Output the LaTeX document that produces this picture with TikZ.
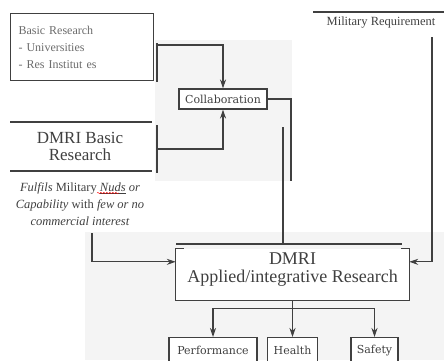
\documentclass[tikz,border=0pt]{standalone}
\usepackage{fontspec}
\setmainfont{Liberation Serif}
\newfontfamily\boxfont{DejaVu Serif}
\usetikzlibrary{arrows.meta,calc,decorations.pathmorphing}
\colorlet{ink}{black!75}
\colorlet{paper}{gray!9}

\begin{document}
\begin{tikzpicture}[x=1pt,y=-1pt,>={Stealth[length=9pt,width=6pt,fill=gray!75!black]}]
        % --- 1. Define Styles ---
        \tikzset{
          link/.style={draw=ink,line width=1.1pt},
          arr/.style={link,->},
          rule/.style={draw=ink,line width=1.5pt},
          box/.style={draw=ink,line width=1.1pt,fill=white,inner sep=2pt},
          small/.style={font=\boxfont\fontsize{11}{12}\selectfont,text=ink},
        }
        \useasboundingbox (0,0) rectangle (444,360);

        % --- 2. Scanned Backgrounds ---
        \fill[paper] (155,40) rectangle (292,181);
        \fill[paper] (85,232) rectangle (444,360);

        % --- 3. Text Blocks ---
        \node[box,text width=127pt,minimum height=67,inner xsep=8pt,anchor=north west,align=left,
              text=gray!85!black,font=\fontsize{12}{17}\selectfont] (basic) at (10,13)
              {Basic Research\\- Universities\\- Res Institut es};
        \node[box,small,minimum width=88,minimum height=20] (collab) at (223,99) {Collaboration};
        \node[text=ink,font=\fontsize{12.5}{13}\selectfont] (milreq) at (381,23) {Military Requirement};
        \node[text=ink,align=center,font=\fontsize{17}{17}\selectfont] (dbasic) at (80,146) {DMRI Basic\\Research};
        \node[text=ink,align=center,font=\fontsize{12.5}{17}\selectfont] (fulfil) at (80,204)
              {\textit{Fulfils} Military \underline{\textit{Nuds}} \textit{or}\\
               \textit{Capability} with \textit{few or no}\\
               \textit{commercial interest}};
        \node[fill=white,minimum width=233,minimum height=51,text depth=13pt,align=center,
              text=ink,font=\fontsize{18}{18}\selectfont] (dapp) at (292.5,274.5)
              {DMRI\\Applied/integrative Research};

        % --- 4. Outcome Boxes ---
        \node[box,small,minimum width=88,minimum height=26,anchor=north] (perf) at (213,337) {Performance};
        \node[box,small,minimum width=50,minimum height=26,anchor=north] (health) at (292.5,337) {Health};
        \node[box,small,minimum width=47,minimum height=26,anchor=north] (safety) at (374.5,337) {Safety};

        % --- 5. Rules and Frame ---
        \draw[rule] (313,12) -- (444,12);
        \draw[rule] (10,122) -- (152,122);
        \draw[rule] (10,171) -- (152,171);
        \draw[rule] (176,244) -- (402,244);
        \draw[link] ($(dapp.north west)+(8,0)$) -- (dapp.north west) -- (dapp.south west)
                    -- (dapp.south east) -- (dapp.north east) -- ($(dapp.north east)+(-8,0)$);
        \draw[red,decorate,decoration={snake,amplitude=0.7pt,segment length=3pt}] (97,193) -- (119,193);

        % --- 6. Coordinates ---
        \coordinate (bktAtop) at (157,43);
        \coordinate (bktAbot) at (157,82);
        \coordinate (bktAmid) at (157,45);
        \coordinate (bktBtop) at (157,125);
        \coordinate (bktBbot) at (157,173);
        \coordinate (bktBmid) at (157,149);
        \coordinate (cdrop) at (291,181);
        \coordinate (vtop) at (283,127);
        \coordinate (vbot) at (283,244);
        \coordinate (mtop) at (432,37);
        \coordinate (fdrop) at (92,233);
        \coordinate (inL) at ($(dapp.north west)+(0,13)$);
        \coordinate (inR) at ($(dapp.north east)+(0,13)$);
        \coordinate (split) at ($(dapp.south)+(0,8)$);

        % --- 7. Connectors ---
        \draw[link] (bktAtop) -- (bktAbot);
        \draw[arr] (bktAmid) -| (collab.north);
        \draw[link] (bktBtop) -- (bktBbot);
        \draw[arr] (bktBmid) -| (collab.south);
        \draw[link] (collab.east) -| (cdrop);
        \draw[link] (vtop) -- (vbot);
        \draw[arr] (mtop) |- (inR);
        \draw[arr] (fdrop) |- (inL);
        \draw[link] (dapp.south) -- (split);
        \draw[arr] (split) -| (perf.north);
        \draw[arr] (split) -- (health.north);
        \draw[arr] (split) -| (safety.north);
    \end{tikzpicture}
\end{document}
